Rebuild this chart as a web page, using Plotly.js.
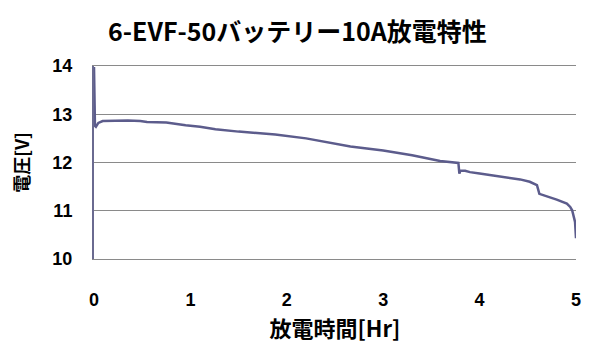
<!DOCTYPE html>
<html>
<head>
<meta charset="utf-8">
<script src="https://cdn.plot.ly/plotly-3.0.1.min.js"></script>
<style>html,body{margin:0;padding:0;background:#fff;}#chart{width:595px;height:351px;}</style>
</head>
<body>
<div id="chart"></div>
<script>
var chartTitle = "6-EVF-50バッテリー10A放電特性";
var xTitle = "放電時間[Hr]";
var yTitle = "電圧[V]";
var timeHr = [0, 0.003, 0.01, 0.02, 0.045, 0.09, 0.2, 0.35, 0.48, 0.55, 0.75, 0.81, 0.95, 1.1, 1.26, 1.5, 1.88, 2.2, 2.66, 3.0, 3.3, 3.59, 3.78, 3.79, 3.8, 3.85, 3.9, 4.0, 4.2, 4.42, 4.52, 4.595, 4.62, 4.7, 4.8, 4.905, 4.94, 4.96, 4.99, 5.0];
var voltage = [13.98, 13.6, 12.76, 12.74, 12.82, 12.86, 12.87, 12.87, 12.86, 12.84, 12.83, 12.81, 12.77, 12.74, 12.69, 12.64, 12.58, 12.5, 12.33, 12.25, 12.15, 12.03, 11.99, 11.77, 11.83, 11.83, 11.8, 11.77, 11.72, 11.65, 11.6, 11.53, 11.35, 11.3, 11.23, 11.15, 11.08, 11.01, 10.77, 10.43];
var xTicks = [0, 1, 2, 3, 4, 5];
var yTicks = [10, 11, 12, 13, 14];

var trace = {
  x: timeHr, y: voltage, type: 'scatter', mode: 'lines',
  line: {color: '#5c5c8c', width: 2.5}, hoverinfo: 'x+y'
};
var tickFont = {family: 'Liberation Sans, Arial, sans-serif', size: 18, color: '#000', weight: 'bold'};
var layout = {
  width: 595, height: 351,
  margin: {l: 94, r: 19, t: 66, b: 92, pad: 0},
  paper_bgcolor: '#fff', plot_bgcolor: '#fff',
  showlegend: false,
  title: {text: chartTitle, x: 0.5, xanchor: 'center', y: 0.909, yanchor: 'middle',
    font: {family: 'Noto Sans CJK JP, sans-serif', size: 25, color: '#000', weight: 'bold'}},
  xaxis: {
    range: [0, 5], tickvals: xTicks, ticktext: xTicks.map(String),
    showgrid: false, zeroline: false, showline: true, mirror: true,
    linecolor: '#8a8a8a', linewidth: 1, ticks: '',
    tickfont: tickFont, ticklabelstandoff: 24,
    title: {text: xTitle, standoff: 13, font: {family: 'Noto Sans CJK JP, sans-serif', size: 22, color: '#000', weight: 'bold'}}
  },
  yaxis: {
    range: [10, 14], tickvals: yTicks, ticktext: yTicks.map(String),
    showgrid: true, gridcolor: '#8a8a8a', gridwidth: 1,
    zeroline: false, showline: true, linecolor: '#6a6a90', linewidth: 2, ticks: '',
    tickfont: tickFont, ticklabelstandoff: 16,
    title: {text: yTitle, standoff: 18, font: {family: 'Noto Sans CJK JP, sans-serif', size: 18, color: '#000', weight: 'bold'}}
  }
};
Plotly.newPlot('chart', [trace], layout, {displayModeBar: false, staticPlot: true});
</script>
</body>
</html>
